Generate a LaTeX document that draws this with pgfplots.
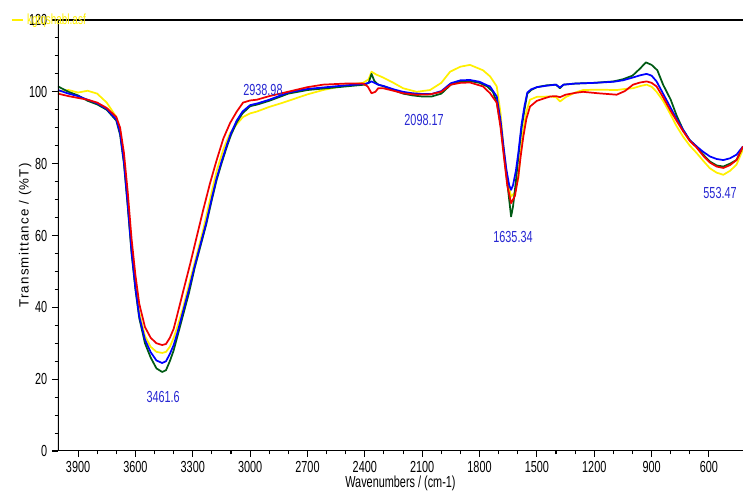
\documentclass[border=0pt]{standalone}
\usepackage{pgfplots}
\pgfplotsset{compat=1.18}
\usepackage{fontspec}
\setmainfont{Liberation Sans}[FakeStretch=0.68]
\newfontfamily\ylabfont{Liberation Sans}[LetterSpace=9]
\definecolor{ygl}{RGB}{255,240,0}
\definecolor{rd}{RGB}{240,0,0}
\definecolor{bl}{RGB}{0,0,255}
\definecolor{gr}{RGB}{0,90,20}
\definecolor{lbl}{RGB}{40,40,210}
\begin{document}
\begin{tikzpicture}
\begin{axis}[
  scale only axis, width=513.75pt, height=323.25pt,
  x dir=reverse, xmin=422, xmax=4005, ymin=0, ymax=120,
  axis line style={draw=none},
  xtick={600,900,...,3900}, minor x tick num=2,
  ytick={0,20,...,120}, minor y tick num=3,
  xtick pos=bottom, ytick pos=left,
  tick align=outside,
  major tick length=4.5pt, minor tick length=2.5pt,
  tick style={black, line width=0.8pt},
  /pgf/number format/assume math mode=true,
  /pgf/number format/1000 sep={},
  ticklabel style={font=\fontsize{12}{12}\selectfont},
  xlabel={Wavenumbers / (cm-1)},
  ylabel={\ylabfont Transmittance / (\%T)},
  x label style={at={(axis description cs:0.5,-0.074)}, anchor=center, font=\fontsize{12}{12}\selectfont},
  y label style={at={(axis description cs:-0.048,0.5)}, anchor=center, font=\fontsize{10}{10}\selectfont},
  legend style={at={(axis description cs:-0.07,1)}, anchor=west, draw=none, fill=none, text=ygl, font=\fontsize{11}{11}\selectfont, inner sep=0pt},
  legend image code/.code={\draw[#1, line width=2pt] (0,0) -- (0.3cm,0);},
  every axis plot/.append style={line width=1.3pt, line join=round},
]
\coordinate (SW) at (axis description cs:0,0);
\coordinate (NE) at (axis description cs:1,1);

% yellow
\addplot[ygl] coordinates {
(4005,100) (3950,100.5) (3900,99.8) (3850,100.3) (3800,99.5) (3750,97) (3700,93)
(3680,89) (3660,81) (3640,69) (3620,56) (3600,46) (3580,38.5) (3550,32) (3520,29)
(3490,27.6) (3460,27.3) (3440,27.6) (3420,29) (3400,31.5) (3384,34) (3350,40)
(3314,47.6) (3280,54.5) (3246,61.5) (3210,70) (3175,78) (3140,84) (3105,88.5)
(3070,91) (3037,93) (3000,94) (2965,94.5) (2900,95.8) (2827,97) (2700,99.3)
(2618,100.5) (2500,101.8) (2409,102.5) (2380,103.5) (2365,105.6) (2340,104.8)
(2305,104) (2250,102.5) (2200,101) (2129,100) (2059,100.5) (2000,102.5) (1954,105.6)
(1900,107) (1850,107.5) (1782,106) (1745,104.3) (1710,101.5) (1690,94) (1675,85)
(1655,76) (1635,70.8) (1615,72) (1597,76) (1585,83) (1571,89.4) (1555,94.5)
(1536,97.8) (1500,98.6) (1431,98.7) (1400,98.5) (1379,97.3) (1350,98.5) (1300,99.8)
(1259,100.5) (1180,100.6) (1083,100.5) (1040,100.8) (997,101) (960,101.6) (926,102)
(900,101.4) (874,100) (840,97.5) (804,94) (770,90.5) (735,87.5) (700,85) (665,83)
(630,80.8) (595,78.7) (560,77.5) (525,76.9) (490,78) (456,79.7) (422,84)
};
\addlegendentry{kgtqshabl.asf}

% green
\addplot[gr, forget plot] coordinates {
(4005,101.5) (3950,100) (3900,99) (3850,97.5) (3800,96.5) (3750,95) (3700,92)
(3680,88) (3660,80) (3640,68) (3620,55) (3600,45) (3580,37) (3550,30) (3520,26)
(3490,23) (3460,22) (3440,22.5) (3420,25) (3400,28) (3380,32) (3350,38) (3320,44)
(3290,51) (3260,57) (3230,63) (3200,70) (3175,75.5) (3150,80) (3120,85) (3100,88)
(3070,91.5) (3040,94) (3000,96) (2960,96.5) (2930,97) (2900,97.5) (2850,98.5)
(2800,99.5) (2700,100.5) (2600,101) (2500,101.5) (2400,102) (2380,102.5) (2365,105)
(2350,103) (2330,102) (2300,101.5) (2250,100.5) (2200,99.5) (2150,99) (2100,98.7)
(2050,98.7) (2000,99.5) (1950,102) (1900,102.8) (1850,103) (1800,102.5) (1760,101.5)
(1730,100) (1710,97) (1690,91) (1675,84) (1660,77) (1645,70) (1635,65.3) (1625,68)
(1610,75) (1597,82) (1580,90) (1565,95) (1550,99.5) (1530,100.5) (1500,101.3)
(1450,101.8) (1400,102) (1380,101) (1360,102) (1300,102.3) (1200,102.5) (1100,102.9)
(1050,103.5) (1000,104.5) (960,106.5) (930,108.2) (900,107.5) (870,106) (840,102)
(800,97.8) (770,93.5) (735,89.4) (700,86.5) (665,84.8) (630,82.5) (595,80.6)
(560,79.5) (525,79.2) (490,80) (456,81) (422,84.8)
};

% blue
\addplot[bl, forget plot] coordinates {
(4005,100.5) (3950,99.5) (3900,98.8) (3850,97.8) (3800,96.8) (3750,95.2) (3700,92.3)
(3680,88.5) (3660,80.5) (3640,68.5) (3620,55.5) (3600,45.5) (3580,37.5) (3550,31)
(3520,27.5) (3490,25.2) (3460,24.5) (3440,25) (3420,27) (3400,29.5) (3380,33)
(3350,39) (3320,45) (3290,51.5) (3260,57.5) (3230,63.5) (3200,70.5) (3175,76)
(3150,80.5) (3120,85.5) (3100,88.5) (3070,92) (3040,94.5) (3000,96.3) (2960,96.8)
(2930,97.3) (2900,97.8) (2850,98.8) (2800,99.8) (2700,100.8) (2600,101.3) (2500,101.8)
(2400,102.2) (2380,102.5) (2365,102.9) (2350,102.5) (2330,102) (2300,101.6)
(2250,100.7) (2200,100) (2150,99.6) (2100,99.4) (2050,99.4) (2000,100.2) (1950,102.4)
(1900,103.2) (1850,103.3) (1800,102.8) (1760,101.8) (1745,101.5) (1710,98.7)
(1690,92) (1675,85) (1660,78.5) (1645,74) (1635,72.7) (1625,74) (1610,78)
(1597,83) (1580,91) (1565,96) (1550,99.8) (1530,100.7) (1500,101.3) (1450,101.7)
(1400,102) (1380,101.2) (1360,102) (1300,102.3) (1200,102.5) (1100,102.8)
(1050,103.2) (997,104) (960,104.6) (926,105) (900,104.5) (874,102.9) (840,99.5)
(804,95.9) (770,92.5) (735,89.4) (700,86.5) (665,84.8) (630,83.3) (595,82)
(560,81.3) (525,81) (490,81.5) (456,82.5) (422,84.8)
};

% red
\addplot[rd, forget plot] coordinates {
(4005,99.5) (3950,98.8) (3900,98.3) (3850,97.8) (3800,97) (3750,95.5) (3700,93)
(3680,90) (3660,83) (3640,72) (3620,59) (3600,49) (3580,41) (3550,34.5) (3520,31.5)
(3490,30) (3460,29.5) (3440,29.8) (3420,31.5) (3400,34) (3384,37.3) (3350,44.5)
(3314,52) (3280,59.5) (3246,67) (3210,74.5) (3175,81) (3140,87) (3105,91.3)
(3070,94.5) (3037,97) (3000,97.6) (2965,97.8) (2900,98.8) (2827,99.7) (2700,101.3)
(2618,102) (2500,102.3) (2409,102.3) (2385,101.5) (2365,99.6) (2345,100) (2330,101)
(2305,101) (2250,100.3) (2200,99.6) (2129,99.2) (2059,99.3) (2000,100) (1950,102)
(1900,102.5) (1850,102.6) (1782,101.5) (1745,99.6) (1710,97) (1690,90) (1675,83)
(1655,74) (1635,69) (1615,71) (1597,76.5) (1585,82) (1571,87.5) (1555,92.5)
(1536,95.9) (1500,97.5) (1431,98.7) (1400,98.8) (1379,98.5) (1350,99.2) (1300,99.7)
(1259,100) (1180,99.6) (1083,99.2) (1040,100.2) (997,102) (960,102.6) (926,102.9)
(900,102.5) (874,101.5) (840,98.5) (804,95) (770,92) (735,89) (700,86.3) (665,84.5)
(630,82.2) (595,80.3) (560,79.2) (525,78.8) (490,79.6) (456,81) (422,84.8)
};

\node[text=lbl, font=\fontsize{12}{12}\selectfont] at (axis cs:2933,100.6) {2938.98};
\node[text=lbl, font=\fontsize{12}{12}\selectfont] at (axis cs:3455,15) {3461.6};
\node[text=lbl, font=\fontsize{12}{12}\selectfont] at (axis cs:2090,92.2) {2098.17};
\node[text=lbl, font=\fontsize{12}{12}\selectfont] at (axis cs:1625,59.6) {1635.34};
\node[text=lbl, font=\fontsize{12}{12}\selectfont] at (axis cs:542,71.9) {553.47};

\draw[black, line width=1.7pt] (axis description cs:0,1) -- (axis description cs:0,0) -- (axis description cs:1,0);
\draw[black, line width=1.2pt] (axis description cs:0,1) -- (axis description cs:1,1);
\end{axis}
\pgfresetboundingbox
\path ([shift={(-43.5pt,-30pt)}]SW) rectangle ([shift={(0pt,15pt)}]NE);
\end{tikzpicture}
\end{document}
